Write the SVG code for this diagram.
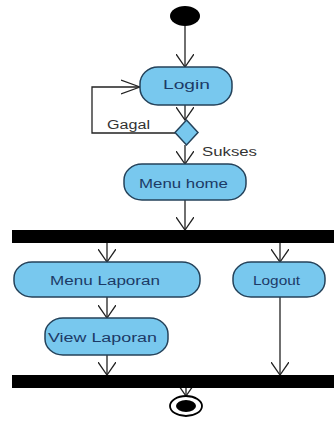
<svg xmlns="http://www.w3.org/2000/svg" width="334" height="423" viewBox="0 0 334 423">
<defs>
<style>
.act{fill:#78c8ee;stroke:#24425a;stroke-width:1.5}
.lbl{font-family:"Liberation Sans",Arial,sans-serif;font-size:12px;fill:#1c3a66}
.gl{font-family:"Liberation Sans",Arial,sans-serif;font-size:12px;fill:#333}
.ln{fill:none;stroke:#222;stroke-width:1.3}
.bar{fill:#000}
</style>
<marker id="arr" viewBox="0 0 14 18" refX="13" refY="9" markerWidth="14" markerHeight="18" markerUnits="userSpaceOnUse" orient="auto">
<path d="M0,0 L13,9 L0,18" fill="none" stroke="#222" stroke-width="1.3"/>
</marker>
<marker id="arrh" viewBox="0 0 20 16" refX="19" refY="8" markerWidth="20" markerHeight="16" markerUnits="userSpaceOnUse" orient="auto">
<path d="M0,1 L19,8 L0,15" fill="none" stroke="#222" stroke-width="1.3"/>
</marker>
</defs>
<rect width="334" height="423" fill="#fff"/>
<g id="connectors">
<line class="ln" x1="185" y1="26" x2="185" y2="67" marker-end="url(#arr)"/>
<line class="ln" x1="185" y1="105" x2="185" y2="120" marker-end="url(#arr)"/>
<polyline class="ln" points="175,133 92,133 92,87 140,87" marker-end="url(#arrh)"/>
<line class="ln" x1="185" y1="145" x2="185" y2="164" marker-end="url(#arr)"/>
<line class="ln" x1="185" y1="200" x2="185" y2="230" marker-end="url(#arr)"/>
<line class="ln" x1="107" y1="243" x2="107" y2="262" marker-end="url(#arr)"/>
<line class="ln" x1="280" y1="243" x2="280" y2="262" marker-end="url(#arr)"/>
<line class="ln" x1="107" y1="297" x2="107" y2="318" marker-end="url(#arr)"/>
<line class="ln" x1="107" y1="355" x2="107" y2="375" marker-end="url(#arr)"/>
<line class="ln" x1="280" y1="297" x2="280" y2="375" marker-end="url(#arr)"/>
<line class="ln" x1="186" y1="388" x2="186" y2="396" marker-end="url(#arr)"/>
<text class="gl" x="107" y="129" textLength="43" lengthAdjust="spacingAndGlyphs">Gagal</text>
<text class="gl" x="202" y="156" textLength="55" lengthAdjust="spacingAndGlyphs">Sukses</text>
</g>
<g id="start"><ellipse cx="185" cy="16" rx="15" ry="10" fill="#000"/></g>
<g id="login">
<rect class="act" x="140" y="67" width="92" height="38" rx="18" ry="17"/>
<text class="lbl" x="163" y="89" textLength="47" lengthAdjust="spacingAndGlyphs">Login</text>
</g>
<g id="decision"><polygon class="act" points="186.5,120 198,132.5 186.5,145 175,132.5"/></g>
<g id="menu-home">
<rect class="act" x="124" y="164" width="122" height="36" rx="18" ry="16"/>
<text class="lbl" x="139" y="188" textLength="89" lengthAdjust="spacingAndGlyphs">Menu home</text>
</g>
<g id="fork"><rect class="bar" x="12" y="230" width="322" height="13"/></g>
<g id="menu-laporan">
<rect class="act" x="14" y="262" width="186" height="35" rx="18" ry="16"/>
<text class="lbl" x="50" y="285" textLength="110" lengthAdjust="spacingAndGlyphs">Menu Laporan</text>
</g>
<g id="logout">
<rect class="act" x="233" y="262" width="92" height="35" rx="18" ry="16"/>
<text class="lbl" x="253" y="285" font-size="13" textLength="47" lengthAdjust="spacingAndGlyphs">Logout</text>
</g>
<g id="view-laporan">
<rect class="act" x="45" y="318" width="123" height="37" rx="18" ry="16"/>
<text class="lbl" x="48" y="342" textLength="109" lengthAdjust="spacingAndGlyphs">View Laporan</text>
</g>
<g id="join"><rect class="bar" x="12" y="375" width="322" height="13"/></g>
<g id="end">
<ellipse cx="186" cy="406" rx="16" ry="10" fill="#fff" stroke="#000" stroke-width="1.8"/>
<ellipse cx="186" cy="406" rx="10" ry="6" fill="#000"/>
</g>
</svg>
